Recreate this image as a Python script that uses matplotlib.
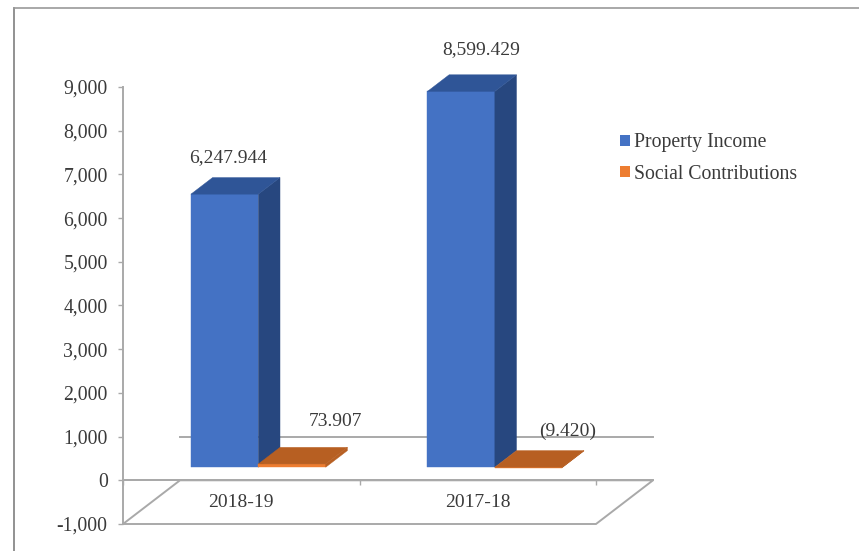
import matplotlib
matplotlib.use("Agg")
import matplotlib.pyplot as plt
from matplotlib.lines import Line2D
from matplotlib.patches import Patch, Polygon

plt.rcParams['font.family'] = ['Liberation Serif', 'DejaVu Serif']

categories = ["2018-19", "2017-18"]
property_income = [6247.944, 8599.429]
social_contributions = [73.907, -9.420]
property_labels = ["6,247.944", "8,599.429"]
social_labels = ["73.907", "(9.420)"]
y_ticks = [-1000, 0, 1000, 2000, 3000, 4000, 5000, 6000, 7000, 8000, 9000]

# one unit of depth moves a point this far on the oblique projection
depth_x = 0.241
depth_y = 1000
bar_width = 0.285
bar_front = 0.3
bar_back = 0.68

axis_col = "#a9a9a9"
text_col = "#3a3a3a"

W, H = 859, 551
fig = plt.figure(figsize=(W / 100, H / 100), dpi=100)
ax = fig.add_axes([123 / W, (H - 524) / H, (596 - 123) / W, (524 - 87) / H])
ax.set_xlim(0, 2)
ax.set_ylim(-1000, 9000)
ax.patch.set_alpha(0)


def point(x, v, d):
    return (x + d * depth_x, v + d * depth_y)


def box(x, value, front_col, side_col, top_col):
    x0, x1 = x, x + bar_width
    low, high = min(0, value), max(0, value)
    faces = [
        ([point(x0, low, bar_front), point(x1, low, bar_front),
          point(x1, high, bar_front), point(x0, high, bar_front)], front_col),
        ([point(x1, low, bar_front), point(x1, low, bar_back),
          point(x1, high, bar_back), point(x1, high, bar_front)], side_col),
        ([point(x0, high, bar_front), point(x1, high, bar_front),
          point(x1, high, bar_back), point(x0, high, bar_back)], top_col),
    ]
    for pts, col in faces:
        ax.add_patch(Polygon(pts, closed=True, facecolor=col, edgecolor=col,
                             linewidth=0.3, clip_on=False, zorder=3))


# floor and the back wall line
floor = [point(0, -1000, 0), point(2, -1000, 0), point(2, -1000, 1), point(0, -1000, 1)]
ax.add_patch(Polygon(floor, closed=True, fill=False, edgecolor=axis_col, linewidth=1.4,
                     clip_on=False, zorder=1))
ax.plot([point(0, 0, 1)[0], point(2, 0, 1)[0]], [1000, 1000], color=axis_col, lw=1.4,
        clip_on=False, zorder=1)
ax.plot([0, point(2, 0, 1)[0]], [0, 0], color=axis_col, lw=1.4, clip_on=False, zorder=2)

for i in range(len(categories)):
    left = i + 0.5 - bar_width
    box(left, property_income[i], "#4472c4", "#27477f", "#2f5597")
    box(left + bar_width, social_contributions[i], "#ed7d31", "#b75f22", "#b75f22")

# data labels
ax.text(0.444, 7437, property_labels[0], fontsize=14, color=text_col, ha="center", va="center_baseline", zorder=5)
ax.text(1.514, 9908, property_labels[1], fontsize=14, color=text_col, ha="center", va="center_baseline", zorder=5)
ax.text(0.90, 1396, social_labels[0], fontsize=14, color=text_col, ha="center", va="center_baseline", zorder=5)
ax.text(1.88, 1167, social_labels[1], fontsize=14, color=text_col, ha="center", va="center_baseline", zorder=5)

# axes
for s in ["top", "right"]:
    ax.spines[s].set_visible(False)
ax.spines["left"].set_color(axis_col)
ax.spines["left"].set_linewidth(1.4)
ax.spines["bottom"].set_position(("data", 0))
ax.spines["bottom"].set_color(axis_col)
ax.spines["bottom"].set_linewidth(1.4)

ax.set_yticks(y_ticks)
ax.set_yticklabels([f"{t:,}" for t in y_ticks], fontsize=14.2, color=text_col)
ax.tick_params(axis="y", length=3.6, width=1, color=axis_col, pad=7.4)
ax.set_xticks([0, 1, 2])
ax.set_xticklabels([])
ax.tick_params(axis="x", which="major", length=3.6, width=1, color=axis_col)
ax.set_xticks([0.5, 1.5], minor=True)
ax.set_xticklabels(categories, minor=True, fontsize=14, color=text_col)
ax.tick_params(axis="x", which="minor", length=0, pad=10)

handles = [Patch(facecolor="#4472c4", label="Property Income"),
           Patch(facecolor="#ed7d31", label="Social Contributions")]
ax.legend(handles=handles, loc="center left", bbox_to_anchor=(620 / W, (H - 158.5) / H),
          bbox_transform=fig.transFigure, frameon=False, fontsize=14.2, labelcolor=text_col,
          handlelength=0.51, handleheight=0.51, handletextpad=0.2, labelspacing=0.62,
          borderpad=0, borderaxespad=0)

# image frame, only left and top show in the picture
fig.add_artist(Line2D([14 / W, 14 / W], [0, (H - 8) / H], color="#7f7f7f", lw=1.2))
fig.add_artist(Line2D([14 / W, 1], [(H - 8) / H, (H - 8) / H], color="#999999", lw=1.2))

fig.savefig("out.png", dpi=100)
